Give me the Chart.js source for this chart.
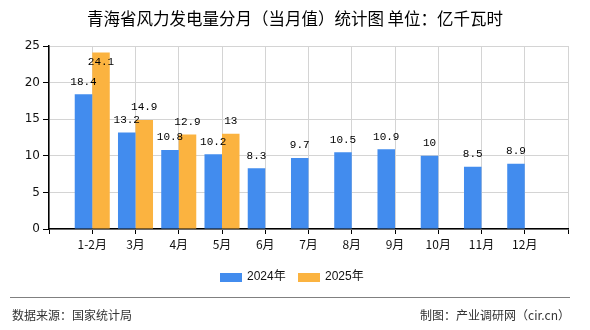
<!DOCTYPE html>
<html>
<head>
<meta charset="utf-8">
<script src="https://cdn.jsdelivr.net/npm/chart.js@4/dist/chart.umd.min.js"></script>
<style>
  html, body { margin: 0; padding: 0; background: #fff; }
  #wrap { position: relative; width: 590px; height: 330px; overflow: hidden; font-family: "Noto Sans CJK SC", "DejaVu Sans", sans-serif; }
  #c { position: absolute; left: 0; top: 0; }
  .title { position: absolute; left: 0; top: 8px; width: 590px; text-align: center; font-size: 16.5px; line-height: 20px; color: #000; }
  .lg-box { position: absolute; width: 22px; height: 9px; top: 273px; }
  .lg-txt { position: absolute; top: 268px; font-size: 12px; line-height: 16px; color: #111; font-family: "Liberation Sans", "Noto Sans CJK SC", sans-serif; }
  .line { position: absolute; left: 10px; top: 297px; width: 560px; height: 0; border-top: 1.5px solid #808080; }
  .foot { position: absolute; top: 307px; font-size: 12px; line-height: 16px; color: #333; }
</style>
</head>
<body>
<div id="wrap">
  <canvas id="c" width="590" height="330"></canvas>
  <div class="title">青海省风力发电量分月（当月值）统计图 单位：亿千瓦时</div>
  <div class="lg-box" style="left:220px;background:#428CEE"></div>
  <div class="lg-txt" style="left:247px">2024年</div>
  <div class="lg-box" style="left:298px;background:#FBB340"></div>
  <div class="lg-txt" style="left:325px">2025年</div>
  <div class="line"></div>
  <div class="foot" style="left:12px">数据来源：国家统计局</div>
  <div class="foot" style="right:20px">制图：产业调研网（cir.cn）</div>
</div>
<script>
const categories = ['1-2月', '3月', '4月', '5月', '6月', '7月', '8月', '9月', '10月', '11月', '12月'];
const values2024 = [18.4, 13.2, 10.8, 10.2, 8.3, 9.7, 10.5, 10.9, 10, 8.5, 8.9];
const values2025 = [24.1, 14.9, 12.9, 13];
const yTicks = [0, 5, 10, 15, 20, 25];
const seriesNames = ['2024年', '2025年'];

// padded category table: one empty slot on each side of the real categories
const labels = [''].concat(categories, ['']);
function pad(arr) {
  const out = [null];
  for (let i = 0; i < categories.length; i++) out.push(i < arr.length ? arr[i] : null);
  out.push(null);
  return out;
}

const valueLabels = {
  id: 'valueLabels',
  afterDatasetsDraw(chart) {
    const ctx = chart.ctx;
    const area = chart.chartArea;
    ctx.save();
    ctx.font = '11px "Liberation Mono", "DejaVu Sans Mono", monospace';
    ctx.fillStyle = '#000';
    ctx.textAlign = 'center';
    ctx.textBaseline = 'middle';
    chart.data.datasets.forEach((ds, di) => {
      const meta = chart.getDatasetMeta(di);
      meta.data.forEach((el, i) => {
        const v = ds.data[i];
        if (v === null || v === undefined) return;
        let y = el.y - 12.5;
        if (y - 6 < area.top) y = el.y + 9.5;
        ctx.fillText(String(v), el.x, y);
      });
    });
    ctx.restore();
  }
};

new Chart(document.getElementById('c'), {
  type: 'bar',
  data: {
    labels: labels,
    datasets: [
      { label: seriesNames[0], data: pad(values2024), backgroundColor: '#428CEE', categoryPercentage: 0.81, barPercentage: 1.0 },
      { label: seriesNames[1], data: pad(values2025), backgroundColor: '#FBB340', categoryPercentage: 0.81, barPercentage: 1.0 }
    ]
  },
  options: {
    responsive: false,
    animation: false,
    devicePixelRatio: 1,
    layout: { padding: { left: 0, right: 22, top: 46, bottom: 0 } },
    plugins: { legend: { display: false }, title: { display: false }, tooltip: { enabled: false } },
    scales: {
      x: {
        offset: false,
        grid: { offset: false, color: '#d4d4d4', lineWidth: 1, tickColor: '#000', tickLength: 5, drawTicks: true },
        border: { color: '#000', width: 1.5 },
        ticks: { color: '#111', padding: 3, maxRotation: 0, autoSkip: false, font: { size: 12, family: '"Noto Sans CJK SC", sans-serif' } },
        afterFit(s) { s.height = 101; }
      },
      y: {
        min: 0, max: 25,
        afterBuildTicks(s) { s.ticks = yTicks.map(v => ({ value: v })); },
        grid: { color: '#d4d4d4', lineWidth: 1, tickColor: '#000', tickLength: 6 },
        border: { color: '#000', width: 1.5 },
        ticks: { color: '#111', padding: 3, font: { size: 12, family: '"DejaVu Sans", sans-serif' } },
        afterFit(s) { s.width = 49; }
      }
    }
  },
  plugins: [valueLabels]
});
</script>
</body>
</html>
